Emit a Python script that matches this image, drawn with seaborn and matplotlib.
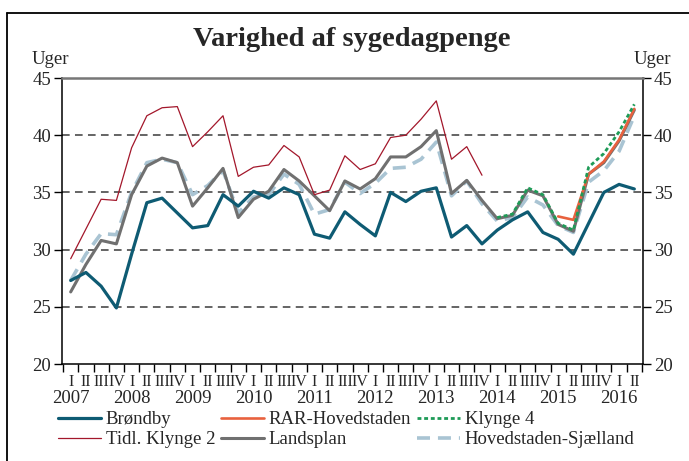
import matplotlib
matplotlib.use("Agg")
import matplotlib.pyplot as plt
import matplotlib.transforms as mtransforms
import seaborn as sns
import numpy as np
import pandas as pd
from matplotlib.lines import Line2D

# ---------------- data ----------------
years = [2007, 2008, 2009, 2010, 2011, 2012, 2013, 2014, 2015, 2016]
quarter_names = ["I", "II", "III", "IV"]

brondby = [27.3, 28.0, 26.8, 24.9, 29.6, 34.1, 34.5, 33.2, 31.9, 32.1,
           34.8, 33.8, 35.1, 34.5, 35.4, 34.8, 31.35, 31.0, 33.3, 32.2,
           31.2, 35.0, 34.2, 35.1, 35.4, 31.1, 32.1, 30.5, 31.7, 32.6,
           33.3, 31.5, 30.9, 29.6, 32.3, 35.0, 35.7, 35.3]
tidl_klynge2 = [29.2, 31.8, 34.4, 34.3, 38.9, 41.7, 42.4, 42.5, 39.0, 40.3,
                41.7, 36.4, 37.2, 37.4, 39.1, 38.1, 34.8, 35.2, 38.2, 37.0,
                37.5, 39.8, 40.0, 41.4, 43.0, 37.9, 39.0, 36.5] + [None] * 10
landsplan = [26.3, 28.7, 30.8, 30.5, 34.8, 37.3, 38.0, 37.6, 33.8, 35.4,
             37.1, 32.8, 34.4, 35.1, 37.0, 36.0, 34.7, 33.4, 36.0, 35.3,
             36.2, 38.1, 38.1, 39.0, 40.4, 34.9, 36.05, 34.3, 32.7, 33.0,
             35.2, 34.7, 32.2, 31.6, 36.6, 37.6, 39.5, 42.2]
hoved_sjaelland = [27.3, 29.6, 31.4, 31.3, 35.0, 37.6, 37.9, 37.6, 34.8, 35.6,
                   36.9, 33.2, 34.6, 34.8, 36.6, 35.7, 33.1, 33.5, 35.9, 34.9,
                   35.8, 37.1, 37.2, 37.9, 39.4, 34.7, 36.0, 34.0, 32.5, 32.8,
                   34.6, 33.9, 32.1, 31.5, 35.9, 36.9, 38.6, 41.7]
rar_hovedstaden = [None] * 32 + [32.9, 32.6, 36.6, 37.7, 39.6, 42.3]
klynge4 = [None] * 28 + [32.8, 33.1, 35.4, 34.8, 32.3, 31.7, 37.2, 38.4, 40.3, 42.7]

n = len(brondby)
quarter_labels = [quarter_names[k % 4] for k in range(n)]

df = pd.DataFrame({
    "t": np.arange(n),
    "Brøndby": brondby,
    "Tidl. Klynge 2": tidl_klynge2,
    "RAR-Hovedstaden": rar_hovedstaden,
    "Landsplan": landsplan,
    "Klynge 4": klynge4,
    "Hovedstaden-Sjælland": hoved_sjaelland,
}).astype(float)

# ---------------- style ----------------
sns.set_style("white")
plt.rcParams["font.family"] = ["Liberation Serif", "DejaVu Serif"]
FS = 13.5

fig = plt.figure(figsize=(6.89, 4.61), dpi=100)
ax = fig.add_axes([62.3 / 689, 1 - 364 / 461, (642.7 - 62.3) / 689, (364 - 78) / 461])

styles = {
    "Hovedstaden-Sjælland": dict(color="#A9C4D3", lw=2.6, dashes=(3.6, 2.2)),
    "Landsplan": dict(color="#707070", lw=2.2, dashes=None),
    "RAR-Hovedstaden": dict(color="#E8613E", lw=1.9, dashes=None),
    "Klynge 4": dict(color="#1E9B57", lw=2.0, dashes=(1.4, 1.0)),
    "Tidl. Klynge 2": dict(color="#A3172B", lw=0.9, dashes=None),
    "Brøndby": dict(color="#0E5B73", lw=2.3, dashes=None),
}
handles = {}
for name in ["Hovedstaden-Sjælland", "Landsplan", "RAR-Hovedstaden", "Klynge 4",
             "Tidl. Klynge 2", "Brøndby"]:
    st = styles[name]
    sub = df[["t", name]].dropna()
    sns.lineplot(data=sub, x="t", y=name, ax=ax, color=st["color"], linewidth=st["lw"])
    line = ax.get_lines()[-1]
    if st["dashes"] is not None:
        line.set_dashes(st["dashes"])
    handles[name] = Line2D([0], [0], color=st["color"], lw=st["lw"],
                           dashes=st["dashes"] if st["dashes"] else (None, None))

ax.set_xlim(-0.55, n - 0.45)
ax.set_ylim(20, 45)
ax.set_xlabel("")
ax.set_ylabel("")

for v in [25, 30, 35, 40]:
    ax.axhline(v, color="#3a3a3a", lw=1.1, dashes=(5, 3.5), zorder=0)

for s in ["left", "right", "bottom"]:
    ax.spines[s].set_visible(True)
    ax.spines[s].set_color("black")
    ax.spines[s].set_linewidth(1.1)
ax.spines["top"].set_color("#777777")
ax.spines["top"].set_linewidth(1.8)

ax.set_yticks([20, 25, 30, 35, 40, 45])
ax.tick_params(axis="y", which="major", direction="out", length=6, width=1,
               left=True, right=True, labelleft=True, labelright=True,
               labelsize=FS, pad=2, color="black")
ax.set_xticks(np.arange(n))
ax.set_xticklabels(quarter_labels, fontsize=11.5)
ax.set_xticks(np.arange(n + 1) - 0.5, minor=True)
ax.tick_params(axis="x", which="major", length=0, pad=7)
ax.tick_params(axis="x", which="minor", direction="out", length=6, width=1,
               bottom=True, color="black")

# year labels under the first quarter of each year
trans = mtransforms.blended_transform_factory(ax.transData, fig.transFigure)
for j, yr in enumerate(years):
    ax.text(j * 4, 1 - 398 / 461, str(yr), transform=trans, ha="center",
            va="center", fontsize=FS)

fig.text(351.5 / 689, 1 - 40 / 461, "Varighed af sygedagpenge", ha="center",
         va="center", fontsize=20.5, fontweight="bold")
fig.text(50 / 689, 1 - 60 / 461, "Uger", ha="center", va="center", fontsize=FS)
fig.text(652 / 689, 1 - 60 / 461, "Uger", ha="center", va="center", fontsize=FS)

order = ["Brøndby", "Tidl. Klynge 2", "RAR-Hovedstaden", "Landsplan",
         "Klynge 4", "Hovedstaden-Sjælland"]
fig.legend([handles[k] for k in order], order, ncol=3, loc="upper left",
           bbox_to_anchor=(58 / 689, 1 - 411 / 461), frameon=False,
           fontsize=FS, handlelength=2.3, handletextpad=0.25, columnspacing=0.3,
           labelspacing=0.15, borderpad=0, borderaxespad=0)

# outer frame (left and top edges)
fig.add_artist(Line2D([7 / 689, 7 / 689], [0, 1 - 13 / 461], color="black", lw=1.3,
                      transform=fig.transFigure))
fig.add_artist(Line2D([7 / 689, 1], [1 - 13 / 461, 1 - 13 / 461], color="black", lw=1.3,
                      transform=fig.transFigure))

fig.savefig("out.png", dpi=100)
